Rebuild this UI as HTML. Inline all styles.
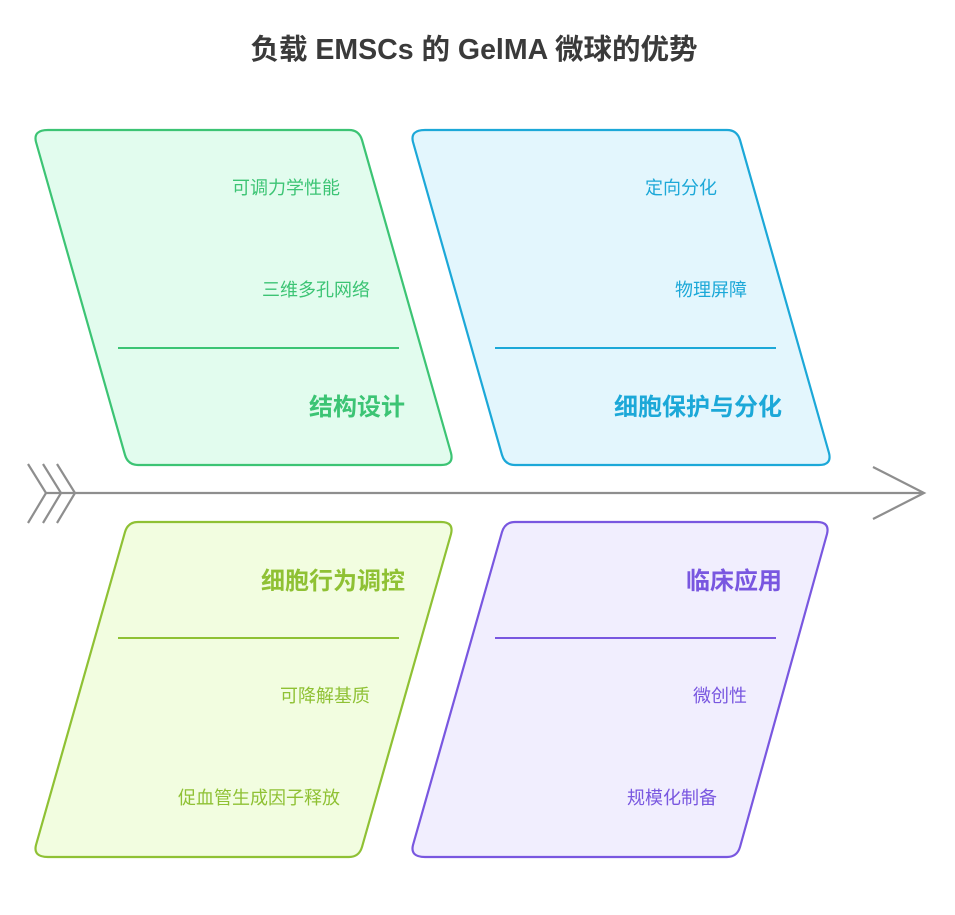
<!DOCTYPE html>
<html><head><meta charset="utf-8"><style>
html,body{margin:0;padding:0;background:#fff;}
svg{display:block;font-family:"Liberation Sans","Noto Sans CJK SC",sans-serif;}
</style></head><body>
<svg width="955" height="915" viewBox="0 0 955 915" xmlns="http://www.w3.org/2000/svg">
<text x="474" y="59" text-anchor="middle" font-size="28.5" font-weight="bold" fill="#3a3a3a">负载 EMSCs 的 GelMA 微球的优势</text>

<g stroke-linejoin="round" stroke-width="2.2">
<path d="M48,130 L349,130 Q359,130 362,140 L451,453 Q454,465 441,465 L138,465 Q128,465 125,455 L36,142 Q33,130 48,130Z" fill="#e2fcee" stroke="#3cc474"/>
<path d="M425,130 L727,130 Q737,130 740,140 L829,453 Q832,465 819,465 L515,465 Q505,465 502,455 L413,142 Q410,130 425,130Z" fill="#e3f6fd" stroke="#1ca8d8"/>
<path d="M138,522 L441,522 Q454,522 451,534 L362,847 Q359,857 349,857 L48,857 Q33,857 36,845 L125,532 Q128,522 138,522Z" fill="#f2fde0" stroke="#8fc134"/>
<path d="M515,522 L817,522 Q830,522 827,534 L740,847 Q737,857 727,857 L425,857 Q410,857 413,845 L502,532 Q505,522 515,522Z" fill="#f1eefe" stroke="#7957e0"/>
</g>

<g stroke-width="2">
<line x1="118" y1="348" x2="399" y2="348" stroke="#3cc474"/>
<line x1="495" y1="348" x2="776" y2="348" stroke="#1ca8d8"/>
<line x1="118" y1="638" x2="399" y2="638" stroke="#8fc134"/>
<line x1="495" y1="638" x2="776" y2="638" stroke="#7957e0"/>
</g>

<g fill="none" stroke="#8e8e8e" stroke-width="2.2">
<line x1="46" y1="493" x2="922" y2="493"/>
<polyline points="28,464 46,493 28,523"/>
<polyline points="43,464 61,493 43,523"/>
<polyline points="57,464 75,493 57,523"/>
<polyline points="873,467 924,493 873,519"/>
</g>

<g font-size="18">
<text x="340" y="194" text-anchor="end" fill="#3cc474">可调力学性能</text>
<text x="370" y="296" text-anchor="end" fill="#3cc474">三维多孔网络</text>
<text x="717" y="194" text-anchor="end" fill="#1ca8d8">定向分化</text>
<text x="747" y="296" text-anchor="end" fill="#1ca8d8">物理屏障</text>
<text x="370" y="702" text-anchor="end" fill="#8fc134">可降解基质</text>
<text x="340" y="804" text-anchor="end" fill="#8fc134">促血管生成因子释放</text>
<text x="747" y="702" text-anchor="end" fill="#7957e0">微创性</text>
<text x="717" y="804" text-anchor="end" fill="#7957e0">规模化制备</text>
</g>
<g font-size="24" font-weight="bold">
<text x="405" y="415" text-anchor="end" fill="#3cc474">结构设计</text>
<text x="782" y="415" text-anchor="end" fill="#1ca8d8">细胞保护与分化</text>
<text x="405" y="589" text-anchor="end" fill="#8fc134">细胞行为调控</text>
<text x="782" y="589" text-anchor="end" fill="#7957e0">临床应用</text>
</g>
</svg>
</body></html>
